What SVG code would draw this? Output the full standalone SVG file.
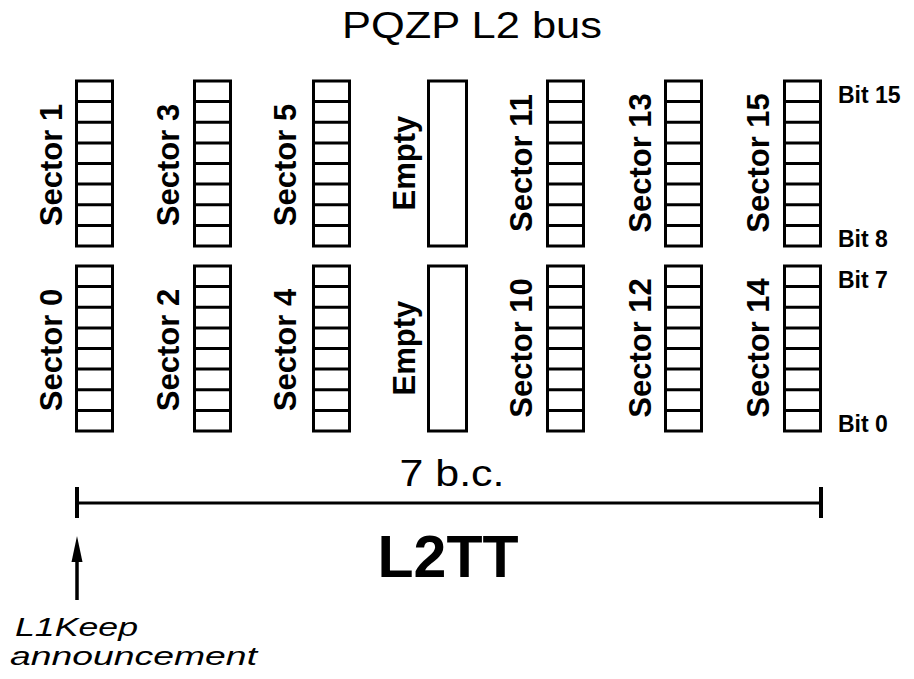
<svg xmlns="http://www.w3.org/2000/svg" xmlns:xlink="http://www.w3.org/1999/xlink" width="914" height="679" viewBox="0 0 914 679">
<style>
.box{fill:#fff;stroke:#000;stroke-width:3}
.div{stroke:#000;stroke-width:3}
.sec{font-family:"Liberation Sans",Arial,sans-serif;font-weight:bold;font-size:31px;text-anchor:middle;fill:#000}
.bit{font-family:"Liberation Sans",Arial,sans-serif;font-weight:bold;font-size:23px;fill:#000}
.reg{font-family:"Liberation Sans",Arial,sans-serif;font-size:37px;fill:#000;text-anchor:middle}
.ital{font-family:"Liberation Sans",Arial,sans-serif;font-style:italic;font-size:25px;fill:#000}
.big{font-family:"Liberation Sans",Arial,sans-serif;font-weight:bold;font-size:59px;fill:#000;text-anchor:middle}
.ln{stroke:#000;fill:none}
</style>
<defs>
<g id="cells">
<rect class="box" x="1.5" y="0" width="36" height="165"/>
<line class="div" x1="1.5" y1="20.6" x2="37.5" y2="20.6"/>
<line class="div" x1="1.5" y1="41.3" x2="37.5" y2="41.3"/>
<line class="div" x1="1.5" y1="61.9" x2="37.5" y2="61.9"/>
<line class="div" x1="1.5" y1="82.5" x2="37.5" y2="82.5"/>
<line class="div" x1="1.5" y1="103.1" x2="37.5" y2="103.1"/>
<line class="div" x1="1.5" y1="123.8" x2="37.5" y2="123.8"/>
<line class="div" x1="1.5" y1="144.4" x2="37.5" y2="144.4"/>
</g>
<rect id="emptybox" class="box" x="1.5" y="0" width="38" height="165"/>
</defs>
<rect width="914" height="679" fill="#fff"/>
<text class="reg" x="472" y="38" textLength="260" lengthAdjust="spacingAndGlyphs">PQZP L2 bus</text>

<g id="sector1"><use xlink:href="#cells" transform="translate(75,81)"/><text class="sec" transform="translate(62,165) rotate(-90)">Sector 1</text></g>
<g id="sector0"><use xlink:href="#cells" transform="translate(75,266)"/><text class="sec" transform="translate(62,350) rotate(-90)">Sector 0</text></g>
<g id="sector3"><use xlink:href="#cells" transform="translate(193,81)"/><text class="sec" transform="translate(179,165) rotate(-90)">Sector 3</text></g>
<g id="sector2"><use xlink:href="#cells" transform="translate(193,266)"/><text class="sec" transform="translate(179,350) rotate(-90)">Sector 2</text></g>
<g id="sector5"><use xlink:href="#cells" transform="translate(312,81)"/><text class="sec" transform="translate(296,165) rotate(-90)">Sector 5</text></g>
<g id="sector4"><use xlink:href="#cells" transform="translate(312,266)"/><text class="sec" transform="translate(296,350) rotate(-90)">Sector 4</text></g>
<g id="empty-top"><use xlink:href="#emptybox" transform="translate(427,81)"/><text class="sec" transform="translate(415,163) rotate(-90)">Empty</text></g>
<g id="empty-bottom"><use xlink:href="#emptybox" transform="translate(427,266)"/><text class="sec" transform="translate(415,348) rotate(-90)">Empty</text></g>
<g id="sector11"><use xlink:href="#cells" transform="translate(546,81)"/><text class="sec" transform="translate(532,163) rotate(-90)">Sector 11</text></g>
<g id="sector10"><use xlink:href="#cells" transform="translate(546,266)"/><text class="sec" transform="translate(532,348) rotate(-90)">Sector 10</text></g>
<g id="sector13"><use xlink:href="#cells" transform="translate(664,81)"/><text class="sec" transform="translate(651,163) rotate(-90)">Sector 13</text></g>
<g id="sector12"><use xlink:href="#cells" transform="translate(664,266)"/><text class="sec" transform="translate(651,348) rotate(-90)">Sector 12</text></g>
<g id="sector15"><use xlink:href="#cells" transform="translate(783,81)"/><text class="sec" transform="translate(769,163) rotate(-90)">Sector 15</text></g>
<g id="sector14"><use xlink:href="#cells" transform="translate(783,266)"/><text class="sec" transform="translate(769,348) rotate(-90)">Sector 14</text></g>

<g id="bit-labels">
<text class="bit" x="838" y="103">Bit 15</text>
<text class="bit" x="838" y="247">Bit 8</text>
<text class="bit" x="838" y="288">Bit 7</text>
<text class="bit" x="838" y="432">Bit 0</text>
</g>

<g id="connectors">
<line class="ln" x1="77" y1="503" x2="821" y2="503" stroke-width="3"/>
<line class="ln" x1="77" y1="487" x2="77" y2="518" stroke-width="4"/>
<line class="ln" x1="821" y1="487" x2="821" y2="518" stroke-width="4"/>
<line class="ln" x1="77" y1="556" x2="77" y2="600" stroke-width="3.5"/>
<polygon points="77,536 71.5,562 82.5,562" fill="#000"/>
</g>

<text class="reg" x="452" y="486" textLength="105" lengthAdjust="spacingAndGlyphs">7 b.c.</text>
<text class="big" x="448" y="577">L2TT</text>
<text class="ital" x="15" y="636" textLength="123" lengthAdjust="spacingAndGlyphs">L1Keep</text>
<text class="ital" x="10" y="665" textLength="247" lengthAdjust="spacingAndGlyphs">announcement</text>
</svg>
